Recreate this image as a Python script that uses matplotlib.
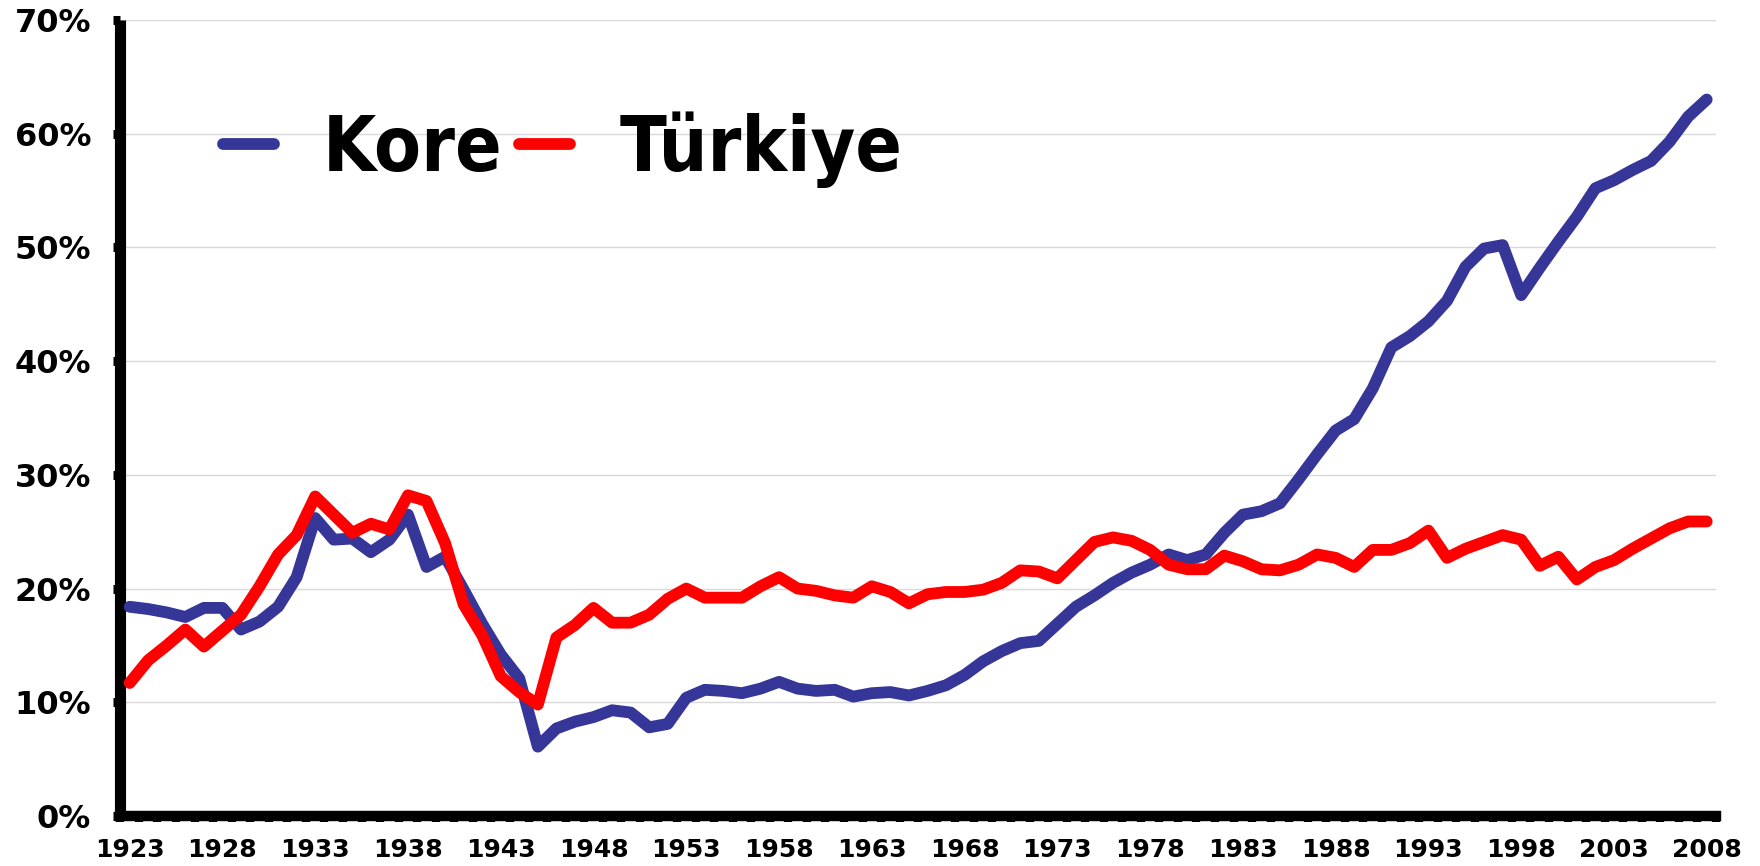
import matplotlib
matplotlib.use("Agg")
import matplotlib.pyplot as plt
from matplotlib.ticker import FuncFormatter, MultipleLocator, FixedLocator

years = list(range(1923, 2009))

kore = [18.4, 18.2, 17.9, 17.5, 18.3, 18.3, 16.4, 17.1, 18.4, 21.0,
        26.2, 24.3, 24.4, 23.2, 24.3, 26.5, 21.9, 22.8, 19.9, 16.9,
        14.2, 12.1, 6.1, 7.7, 8.3, 8.7, 9.3, 9.1, 7.8, 8.1,
        10.4, 11.1, 11.0, 10.8, 11.2, 11.8, 11.2, 11.0, 11.1, 10.5,
        10.8, 10.9, 10.6, 11.0, 11.5, 12.4, 13.6, 14.5, 15.2, 15.4,
        16.9, 18.4, 19.4, 20.5, 21.4, 22.1, 23.0, 22.5, 23.0, 24.9,
        26.5, 26.8, 27.5, 29.6, 31.8, 33.9, 34.9, 37.6, 41.2, 42.2,
        43.5, 45.3, 48.3, 49.9, 50.2, 45.8, 48.2, 50.5, 52.7, 55.2,
        55.9, 56.8, 57.6, 59.3, 61.5, 63.0]

turkiye = [11.7, 13.7, 15.0, 16.4, 14.9, 16.3, 17.7, 20.2, 23.0, 24.7,
           28.1, 26.5, 24.9, 25.7, 25.2, 28.2, 27.7, 24.0, 18.6, 15.9,
           12.3, 10.9, 9.8, 15.7, 16.8, 18.3, 17.0, 17.0, 17.7, 19.1,
           20.0, 19.2, 19.2, 19.2, 20.2, 21.0, 20.0, 19.8, 19.4, 19.2,
           20.2, 19.7, 18.7, 19.5, 19.7, 19.7, 19.9, 20.5, 21.6, 21.5,
           20.9, 22.5, 24.1, 24.5, 24.2, 23.4, 22.1, 21.7, 21.7, 22.9,
           22.4, 21.7, 21.6, 22.1, 23.0, 22.7, 21.9, 23.4, 23.4, 24.0,
           25.1, 22.7, 23.5, 24.1, 24.7, 24.3, 22.0, 22.8, 20.8, 21.9,
           22.5, 23.5, 24.4, 25.3, 25.9, 25.9]

tick_years = list(range(1923, 2009, 5))
series_labels = ["Kore", "Türkiye"]

BLUE = "#363699"
RED = "#FF0000"

fig = plt.figure(figsize=(17.6, 8.66), dpi=100)
ax = fig.add_axes([0.0684, 0.0577, 0.9066, 0.9193])

ax.plot(years, [v / 100 for v in kore], color=BLUE, lw=8.5,
        solid_capstyle="round", solid_joinstyle="round", label=series_labels[0], zorder=3)
ax.plot(years, [v / 100 for v in turkiye], color=RED, lw=8.5,
        solid_capstyle="round", solid_joinstyle="round", label=series_labels[1], zorder=4)

ax.set_xlim(years[0] - 0.5, years[-1] + 0.5)
ax.set_ylim(0, 0.7)

ax.yaxis.set_major_locator(MultipleLocator(0.1))
ax.yaxis.set_major_formatter(FuncFormatter(lambda v, p: f"{v*100:.0f}%"))
ax.xaxis.set_major_locator(FixedLocator(tick_years))
ax.xaxis.set_minor_locator(FixedLocator([y - 0.5 for y in years] + [years[-1] + 0.5]))

ax.grid(axis="y", color="#d9d9d9", lw=1.0, zorder=0)
ax.set_axisbelow(True)

for s in ["top", "right"]:
    ax.spines[s].set_visible(False)
ax.spines["left"].set_linewidth(8)
ax.spines["bottom"].set_linewidth(7.5)
ax.spines["left"].set_capstyle("butt")

ax.tick_params(axis="y", which="major", direction="out", length=5, width=6.5, pad=16)
ax.tick_params(axis="x", which="major", length=0, pad=16)
ax.tick_params(axis="x", which="minor", direction="out", length=4, width=6)

for lab in ax.get_yticklabels():
    lab.set_fontfamily("DejaVu Sans")
    lab.set_fontweight("bold")
    lab.set_fontsize(23)
for lab in ax.get_xticklabels():
    lab.set_fontfamily("DejaVu Sans")
    lab.set_fontweight("bold")
    lab.set_fontsize(18)

leg = ax.legend(loc="upper left", bbox_to_anchor=(0.021, 0.972), ncol=2, frameon=False,
                handlelength=0.67, handletextpad=0.64, columnspacing=0.22,
                prop=dict(family="DejaVu Sans", weight="bold", stretch="condensed", size=55))
for h in leg.get_lines():
    h.set_linewidth(8.5)
    h.set_solid_capstyle("round")

fig.savefig("out.png", dpi=100)
